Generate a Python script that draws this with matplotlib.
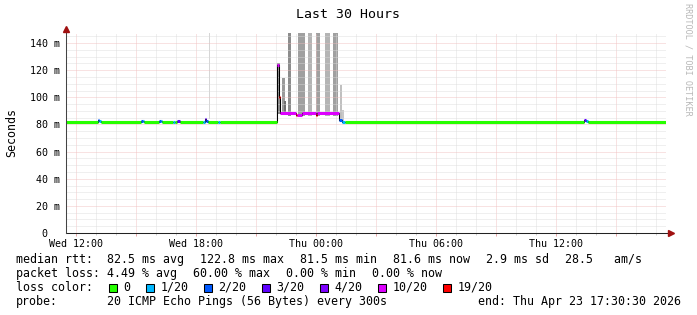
import matplotlib
matplotlib.use('Agg')
import matplotlib.pyplot as plt
import matplotlib.dates as mdates
from matplotlib.patches import Rectangle
from matplotlib.ticker import MultipleLocator, FuncFormatter
import pandas as pd

MONO = 'DejaVu Sans Mono'
W, H = 697, 315

# graph span (last 30 hours)
t_begin = '2026-04-22 11:30:30'
t_end = '2026-04-23 17:30:30'

# median rtt in ms as steps: start of step, value, pings lost out of 20
med_time = ['2026-04-22 11:30:30', '2026-04-22 13:05', '2026-04-22 13:10', '2026-04-22 13:15',
            '2026-04-22 15:15', '2026-04-22 15:20', '2026-04-22 15:25',
            '2026-04-22 16:10', '2026-04-22 16:15', '2026-04-22 16:20',
            '2026-04-22 16:50', '2026-04-22 16:57', '2026-04-22 17:05', '2026-04-22 17:12',
            '2026-04-22 18:20', '2026-04-22 18:26', '2026-04-22 18:32', '2026-04-22 18:37',
            '2026-04-22 19:05', '2026-04-22 19:12',
            '2026-04-22 22:03', '2026-04-22 22:09', '2026-04-22 22:12', '2026-04-22 23:00',
            '2026-04-22 23:04', '2026-04-22 23:18', '2026-04-23 00:00', '2026-04-23 00:04',
            '2026-04-23 01:08', '2026-04-23 01:20', '2026-04-23 01:27',
            '2026-04-23 13:25', '2026-04-23 13:31', '2026-04-23 13:37']
med_ms = [81.6, 83.0, 82.5, 81.6,
          82.6, 82.2, 81.6,
          82.6, 82.2, 81.6,
          82.0, 81.6, 82.4, 81.6,
          82.0, 84.0, 82.6, 81.6,
          82.0, 81.6,
          124.0, 100.0, 88.3, 87.3,
          87.3, 88.3, 87.3, 88.3,
          83.0, 82.0, 81.6,
          83.4, 82.4, 81.6]
med_loss = [0, 2, 1, 0,
            2, 1, 0,
            2, 1, 0,
            1, 0, 3, 0,
            1, 3, 2, 0,
            1, 0,
            10, 19, 10, 19,
            10, 10, 19, 10,
            2, 1, 0,
            3, 1, 0]

# smoke (spread of the single pings), where it is visible; values in ms
smoke_from = ['2026-04-22 13:11', '2026-04-22 18:41', '2026-04-22 22:04', '2026-04-22 22:20',
              '2026-04-22 22:24', '2026-04-22 22:36', '2026-04-22 23:06', '2026-04-22 23:35',
              '2026-04-22 23:59', '2026-04-23 00:27', '2026-04-23 00:51', '2026-04-23 01:14',
              '2026-04-23 01:20']
smoke_to = ['2026-04-22 13:14', '2026-04-22 18:44', '2026-04-22 22:12', '2026-04-22 22:27',
            '2026-04-22 22:30', '2026-04-22 22:45', '2026-04-22 23:27', '2026-04-22 23:50',
            '2026-04-23 00:12', '2026-04-23 00:42', '2026-04-23 01:06', '2026-04-23 01:20',
            '2026-04-23 01:26']
smoke_lo = [83, 84, 88, 88, 88, 86, 86, 86, 86, 86, 86, 82, 82]
smoke_hi = [150, 150, 125.5, 114, 97, 150, 150, 150, 150, 150, 150, 109, 90.6]
smoke_grey = ['#d6d6d6', '#d6d6d6', '#8c8c8c', '#9a9a9a', '#707070', '#8c8c8c', '#a0a0a0',
              '#b4b4b4', '#a0a0a0', '#b4b4b4', '#a0a0a0', '#c0c0c0', '#c8c8c8']

pings = 20
loss_steps = [0, 1, 2, 3, 4, 10, 19]
loss_cols = ['#26ff00', '#00b8ff', '#0059ff', '#5e00ff', '#7e00ff', '#dd00ff', '#ff0000']

rtt_stats = [('avg', 82.5), ('max', 122.8), ('min', 81.5), ('now', 81.6)]
rtt_sd = 2.9
rtt_ams = 28.5
loss_stats = [('avg', 4.49), ('max', 60.00), ('min', 0.00), ('now', 0.00)]
probe = '20 ICMP Echo Pings (56 Bytes) every 300s'


def tnum(lst):
    return mdates.date2num(pd.to_datetime(lst, format='ISO8601').to_pydatetime())


def loss_color(n):
    idx = max(i for i, s in enumerate(loss_steps) if n >= s)
    return loss_cols[idx]


def fx(px):
    return px / W


def fy(py):
    return 1 - py / H


fig = plt.figure(figsize=(W / 100, H / 100), dpi=100, facecolor='white')
ax = fig.add_axes([fx(66), fy(233), 600 / W, 200 / H])
ax.set_facecolor('white')

x0, x1 = tnum([t_begin, t_end])
ax.set_xlim(x0, x1)
ax.set_ylim(0, 0.1474)

# smoke
sf, st = tnum(smoke_from), tnum(smoke_to)
lo = [v / 1000 for v in smoke_lo]
hi = [v / 1000 for v in smoke_hi]
ax.bar(sf, [h - l for h, l in zip(hi, lo)], bottom=lo, width=st - sf, align='edge',
       color=smoke_grey, linewidth=0, zorder=1)

# median line
mt = list(tnum(med_time)) + [x1]
mv = [v / 1000 for v in med_ms]
ax.step(mt, mv + [mv[-1]], where='post', color='black', lw=0.75, zorder=2)
for i in range(len(mv)):
    ax.hlines(mv[i], mt[i], mt[i + 1], colors=loss_color(med_loss[i]), lw=2.2, zorder=3)

# grid
ax.xaxis.set_major_locator(mdates.HourLocator(byhour=range(0, 24, 3)))
ax.xaxis.set_minor_locator(mdates.HourLocator())
ax.xaxis.set_major_formatter(FuncFormatter(
    lambda v, p: mdates.num2date(v).strftime('%a %H:%M') if mdates.num2date(v).hour % 6 == 0 else ''))
ax.yaxis.set_major_locator(MultipleLocator(0.02))
ax.yaxis.set_minor_locator(MultipleLocator(0.005))
ax.yaxis.set_major_formatter(FuncFormatter(
    lambda v, p: f'{v * 1000:3.0f} m' if v > 0.0001 else '  0  '))
ax.set_axisbelow('line')
ax.grid(which='minor', color='#dadada', lw=0.6, ls=(0, (1.2, 1.2)))
ax.grid(which='major', color='#efbcbc', lw=0.6, ls=(0, (1.2, 1.2)))

ax.tick_params(axis='x', which='major', length=2, width=0.7, color='#e8a8a8',
               pad=2, labelsize=7.18)
ax.tick_params(axis='x', which='minor', length=1.5, width=0.7, color='#d0d0d0')
ax.tick_params(axis='y', which='both', length=0, pad=25.9, labelsize=7.18)
for lab in ax.get_xticklabels():
    lab.set_fontfamily(MONO)
for lab in ax.get_yticklabels():
    lab.set_fontfamily(MONO)
    lab.set_horizontalalignment('left')

for s in ax.spines.values():
    s.set_visible(False)

# axes with arrows
ax.plot([0, (671 - 66) / 600], [0, 0], color='#222222', lw=0.75, transform=ax.transAxes,
        clip_on=False, zorder=4)
ax.plot([0, 0], [0, (233 - 29) / 200], color='#444444', lw=0.75, transform=ax.transAxes,
        clip_on=False, zorder=4)
ax.plot([(671 - 66) / 600], [0], marker='>', ms=4.5, color='#a01010', mec='#a01010',
        transform=ax.transAxes, clip_on=False, zorder=5)
ax.plot([0], [(233 - 28.5) / 200], marker='^', ms=4.5, color='#a01010', mec='#a01010',
        transform=ax.transAxes, clip_on=False, zorder=5)

# texts
fig.text(0.5, fy(14), 'Last 30 Hours', ha='center', va='center', fontsize=9.57, family=MONO)
fig.text(fx(12), fy(132), 'Seconds', ha='center', va='center', rotation=90,
         fontsize=8.37, family=MONO)
fig.text(fx(688), fy(59), 'RRDTOOL / TOBI OETIKER', ha='center', va='center', rotation=270,
         fontsize=6.1, family=MONO, color='#b8b8b8')

CW = 7.0
LFS = 8.37


def legend_row(label, items, y):
    fig.text(fx(16), fy(y), label, ha='left', va='baseline', fontsize=LFS, family=MONO)
    x = 107.3
    for it in items:
        fig.text(fx(x), fy(y), it, ha='left', va='baseline', fontsize=LFS, family=MONO)
        x += len(it) * CW + 16


legend_row('median rtt:', [f'{v:.1f} ms {k}' for k, v in rtt_stats]
           + [f'{rtt_sd:.1f} ms sd', f'{rtt_ams:.1f}   am/s'], 263)
legend_row('packet loss:', [f'{v:.2f} % {k}' for k, v in loss_stats], 277)

fig.text(fx(16), fy(291), 'loss color:', ha='left', va='baseline', fontsize=LFS, family=MONO)
bx = 109
for s, c in zip(loss_steps, loss_cols):
    lab = '0' if s == 0 else f'{s}/{pings}'
    fig.patches.append(Rectangle((fx(bx), fy(292)), 8 / W, 8 / H, transform=fig.transFigure,
                                 facecolor=c, edgecolor='black', lw=0.75))
    tx = bx + 14.5
    fig.text(fx(tx), fy(291), lab, ha='left', va='baseline', fontsize=LFS, family=MONO)
    bx = tx + len(lab) * CW + 15.5

fig.text(fx(16), fy(305), 'probe:', ha='left', va='baseline', fontsize=LFS, family=MONO)
fig.text(fx(107.3), fy(305), probe, ha='left', va='baseline', fontsize=LFS, family=MONO)
end_str = pd.Timestamp(t_end).strftime('end: %a %b %d %H:%M:%S %Y')
fig.text(fx(681), fy(305), end_str, ha='right', va='baseline', fontsize=LFS, family=MONO)

fig.savefig('out.png', dpi=100, facecolor='white')
